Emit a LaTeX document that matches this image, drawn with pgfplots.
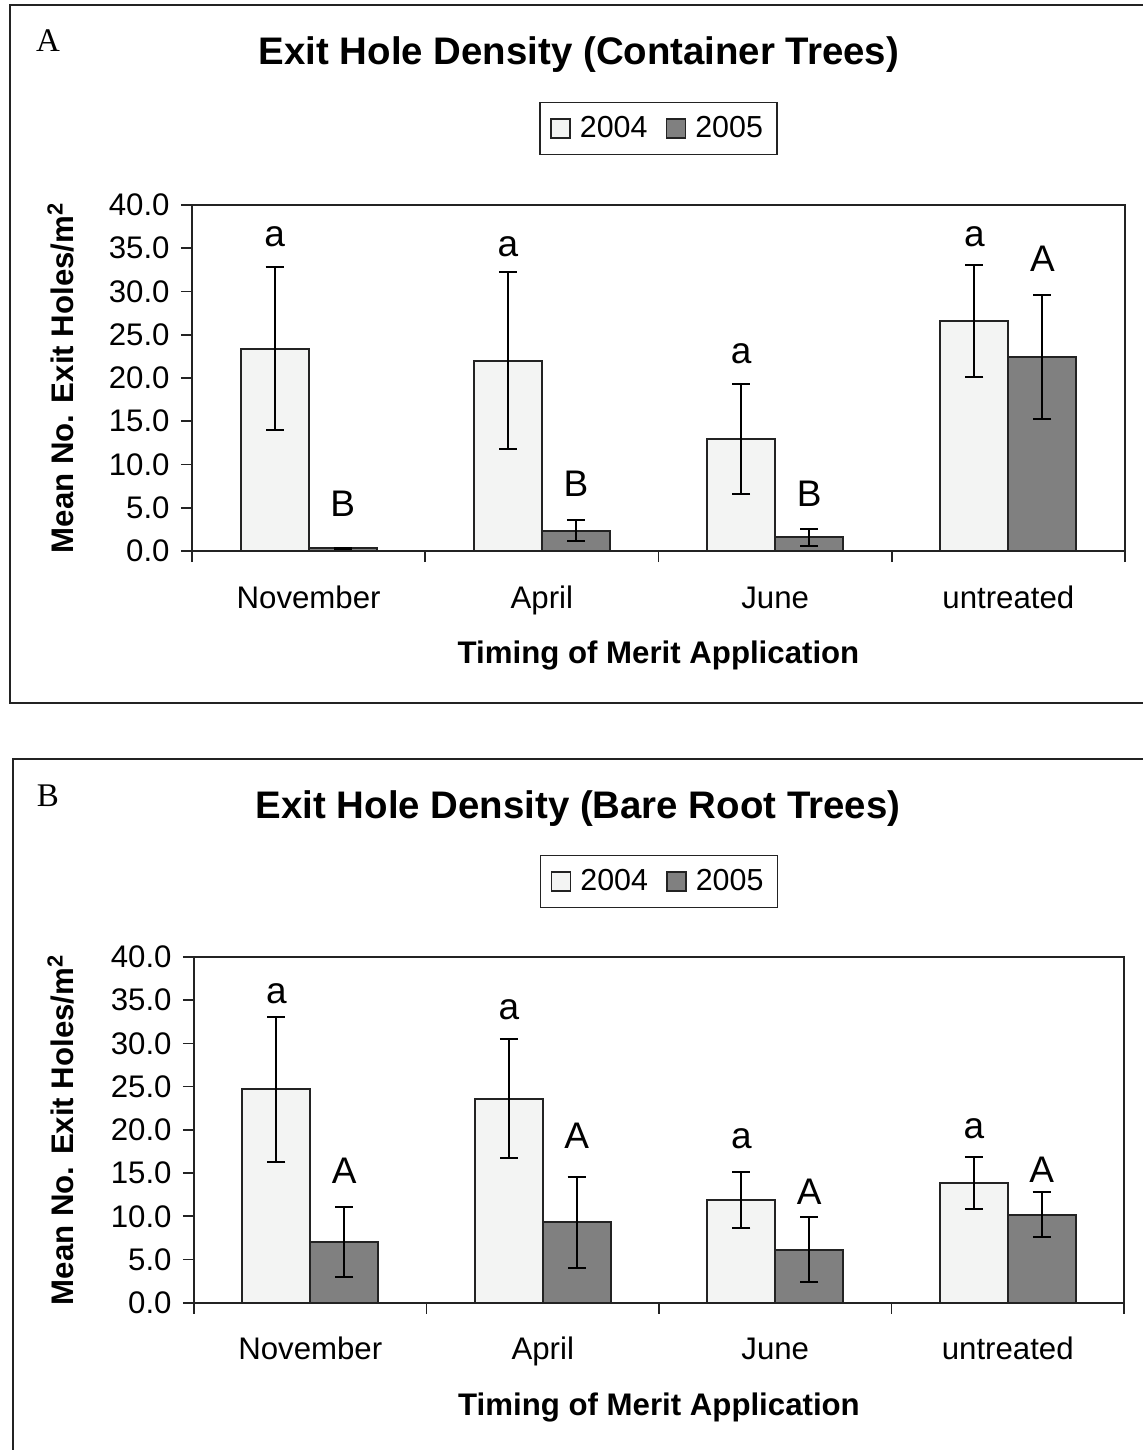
\documentclass[border=0pt]{standalone}
\usepackage{pgfplots}
\pgfplotsset{compat=1.18}
\usepackage{fontspec}
\setmainfont{Liberation Sans}
\newfontfamily\panelfont{Liberation Serif}
\definecolor{lightbar}{RGB}{243,244,243}
\definecolor{darkbar}{RGB}{128,128,128}
\definecolor{axgray}{RGB}{35,35,35}

\tikzset{letter/.style={font=\fontsize{18.5}{20}\selectfont, inner sep=0pt, anchor=center}}

\pgfplotsset{
  exitstyle/.style={
    scale only axis,
    xmin=-0.5, xmax=3.5, ymin=0, ymax=40,
    ytick={0,5,...,40},
    xtick={0,1,2,3},
    xticklabels={November,April,June,untreated},
    minor xtick={-0.5,0.5,1.5,2.5,3.5},
    major x tick style={draw=none},
    tick align=outside,
    xtick pos=left, ytick pos=left,
    major tick length=5.5pt, minor tick length=5.5pt,
    axis line style={axgray, line width=1pt},
    every tick/.append style={axgray, line width=0.8pt},
    /pgf/number format/assume math mode=true,
    ticklabel style={font=\fontsize{15.6}{18}\selectfont},
    yticklabel style={/pgf/number format/fixed, /pgf/number format/fixed zerofill, /pgf/number format/precision=1, anchor=east, inner sep=0pt, xshift=-5.5pt},
    xticklabel style={anchor=base, inner sep=0pt, yshift=-23pt},
    ylabel={Mean No. Exit Holes/m\textsuperscript{2}},
    xlabel={Timing of Merit Application},
    every axis x label/.style={at={(axis description cs:0.5,-0.325)}, anchor=base, font=\bfseries\fontsize{15.6}{18}\selectfont},
    ybar=0pt, bar width=0.292,
    legend columns=2,
    legend style={draw=axgray, line width=0.6pt, font=\fontsize{15.2}{18}\selectfont,
      inner xsep=5pt, inner ysep=5pt,
      /tikz/every even column/.append style={column sep=7pt}},
    legend cell align=left,
  },
  bar2004/.style={draw=axgray, line width=1pt, fill=lightbar,
    error bars/.cd, y dir=both, y explicit,
    error bar style={black, line width=1pt},
    error mark options={rotate=90, mark size=4.5pt, line width=1pt, black},
    /pgfplots/.cd,
    legend image code/.code={\draw[line width=0.8pt, draw=axgray, fill=lightbar] (0pt,-4.75pt) rectangle (9.5pt,4.75pt); \path[draw=none, fill=none] (0pt,0pt) -- (12.5pt,0pt);}},
  bar2005/.style={draw=axgray, line width=1pt, fill=darkbar,
    error bars/.cd, y dir=both, y explicit,
    error bar style={black, line width=1pt},
    error mark options={rotate=90, mark size=4.5pt, line width=1pt, black},
    /pgfplots/.cd,
    legend image code/.code={\draw[line width=0.8pt, draw=axgray, fill=darkbar] (0pt,-4.75pt) rectangle (9.5pt,4.75pt); \path[draw=none, fill=none] (0pt,0pt) -- (12.5pt,0pt);}},
}

\begin{document}
\begin{tikzpicture}
\begin{scope}[x=0.5pt,y=-0.5pt]
\path[use as bounding box] (0,0) rectangle (1142,1450);
\draw[axgray, line width=1pt] (1160,5) -- (9.6,5) -- (9.6,703) -- (1160,703);
\draw[axgray, line width=1pt] (1160,759) -- (13,759) -- (13,1470);
\node[anchor=base, font=\panelfont\fontsize{16.5}{18}\selectfont] at (48,52) {A};
\node[anchor=base, font=\bfseries\fontsize{19.2}{22}\selectfont] at (579,65) {Exit Hole Density (Container Trees)};
\node[anchor=base, font=\panelfont\fontsize{16.5}{18}\selectfont] at (48,806) {B};
\node[anchor=base, font=\bfseries\fontsize{19.2}{22}\selectfont] at (578,818) {Exit Hole Density (Bare Root Trees)};
\end{scope}

% Panel A
\begin{axis}[exitstyle, width=466.5pt, height=173pt, at={(96pt,-275.5pt)}, anchor=south west,
  every axis y label/.style={at={(axis description cs:-0.1275,0.5)}, rotate=90, anchor=base, font=\bfseries\fontsize{15.6}{18}\selectfont},
  legend style={at={(0.5,1.1445)}, anchor=south}]
\addplot[bar2004] coordinates {(0,23.4) +- (0,9.4) (1,22.0) +- (0,10.2) (2,12.95) +- (0,6.4) (3,26.6) +- (0,6.45)};
\addlegendentry{2004}
\addplot[bar2005] coordinates {(0,0.3) +- (0,0.05) (1,2.35) +- (0,1.2) (2,1.6) +- (0,1.0) (3,22.46) +- (0,7.15)};
\addlegendentry{2005}
\node[letter] at (axis cs:-0.146,36.3) {a};
\node[letter] at (axis cs:0.146,5.5) {B};
\node[letter] at (axis cs:0.854,35.2) {a};
\node[letter] at (axis cs:1.146,7.75) {B};
\node[letter] at (axis cs:1.854,22.8) {a};
\node[letter] at (axis cs:2.146,6.6) {B};
\node[letter] at (axis cs:2.854,36.3) {a};
\node[letter] at (axis cs:3.146,33.75) {A};
\end{axis}

% Panel B
\begin{axis}[exitstyle, width=465pt, height=172.85pt, at={(97pt,-651.35pt)}, anchor=south west,
  every axis y label/.style={at={(axis description cs:-0.130,0.5)}, rotate=90, anchor=base, font=\bfseries\fontsize{15.6}{18}\selectfont},
  legend style={at={(0.5,1.1417)}, anchor=south}]
\addplot[bar2004] coordinates {(0,24.7) +- (0,8.4) (1,23.6) +- (0,6.9) (2,11.9) +- (0,3.2) (3,13.9) +- (0,3.0)};
\addlegendentry{2004}
\addplot[bar2005] coordinates {(0,7.0) +- (0,4.05) (1,9.3) +- (0,5.3) (2,6.15) +- (0,3.8) (3,10.2) +- (0,2.65)};
\addlegendentry{2005}
\node[letter] at (axis cs:-0.146,35.8) {a};
\node[letter] at (axis cs:0.146,15.3) {A};
\node[letter] at (axis cs:0.854,33.9) {a};
\node[letter] at (axis cs:1.146,19.3) {A};
\node[letter] at (axis cs:1.854,19.0) {a};
\node[letter] at (axis cs:2.146,12.8) {A};
\node[letter] at (axis cs:2.854,20.1) {a};
\node[letter] at (axis cs:3.146,15.4) {A};
\end{axis}
\end{tikzpicture}
\end{document}
